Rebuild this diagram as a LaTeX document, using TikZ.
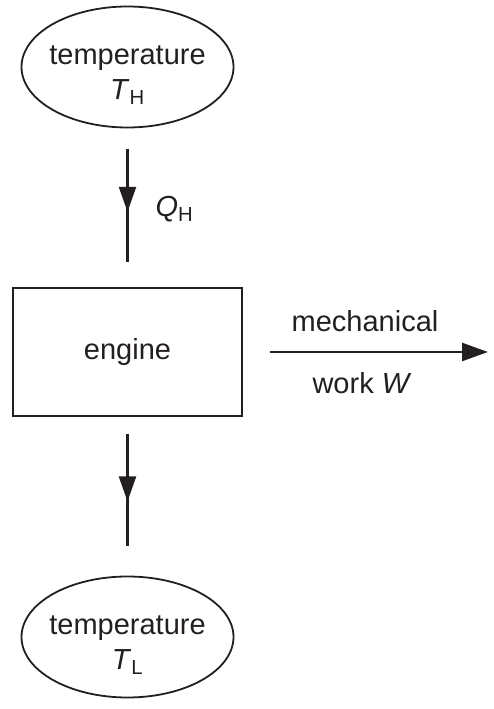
\documentclass[tikz,border=0pt]{standalone}
\usepackage{fontspec}
\setmainfont{Liberation Sans}
\usetikzlibrary{calc,shapes.geometric,arrows.meta,decorations.markings}
\definecolor{ink}{RGB}{35,31,32}

\begin{document}
\begin{tikzpicture}[x=1pt, y=1pt, node distance=285pt,
  every node/.style={font=\fontsize{29}{35}\selectfont, text=ink},
  reservoir/.style={draw=ink, ellipse, line width=1.8pt, minimum width=212pt, minimum height=121pt, inner sep=0pt, outer sep=0pt},
  block/.style={draw=ink, line width=2.4pt, minimum width=229pt, minimum height=128pt, outer sep=0pt},
  flow/.style={draw=ink, line width=2.4pt, postaction={decorate},
    decoration={markings, mark=at position #1 with {\arrow{Triangle[length=25pt, width=17pt]}}}}]

  \useasboundingbox (0,0) rectangle (493,709);

  % Reservoirs and engine
  \node[reservoir] (hot) at (127.5,642) {};
  \node[block, below of=hot] (eng) {engine};
  \node[reservoir, below of=eng] (cold) {};

  % Reservoir labels
  \node[align=center, yshift=-8pt] (hotname) at (hot) {temperature\\\textit{T}\textsubscript{H}};
  \node[align=center, yshift=-8pt] (coldname) at (cold) {temperature\\\textit{T}\textsubscript{L}};

  % Heat flows
  \draw[flow=0.554] ($(hot.south)+(0,-22)$) -- ($(eng.north)+(0,26)$);
  \node[anchor=west] (qh) at (152,500) {\textit{Q}\textsubscript{H}};
  \draw[flow=0.6] ($(eng.south)+(0,-18.5)$) -- ($(cold.north)+(0,30.5)$);

  % Work output
  \node[coordinate, right of=eng, xshift=75.5pt] (out) {};
  \draw[draw=ink, line width=2.4pt, -{Triangle[length=26pt, width=18pt]}] ($(eng.east)+(28,0)$) -- (out);
  \node (mech) at (365,388) {mechanical};
  \node (work) at (362,326) {work \textit{W}};

\end{tikzpicture}
\end{document}
